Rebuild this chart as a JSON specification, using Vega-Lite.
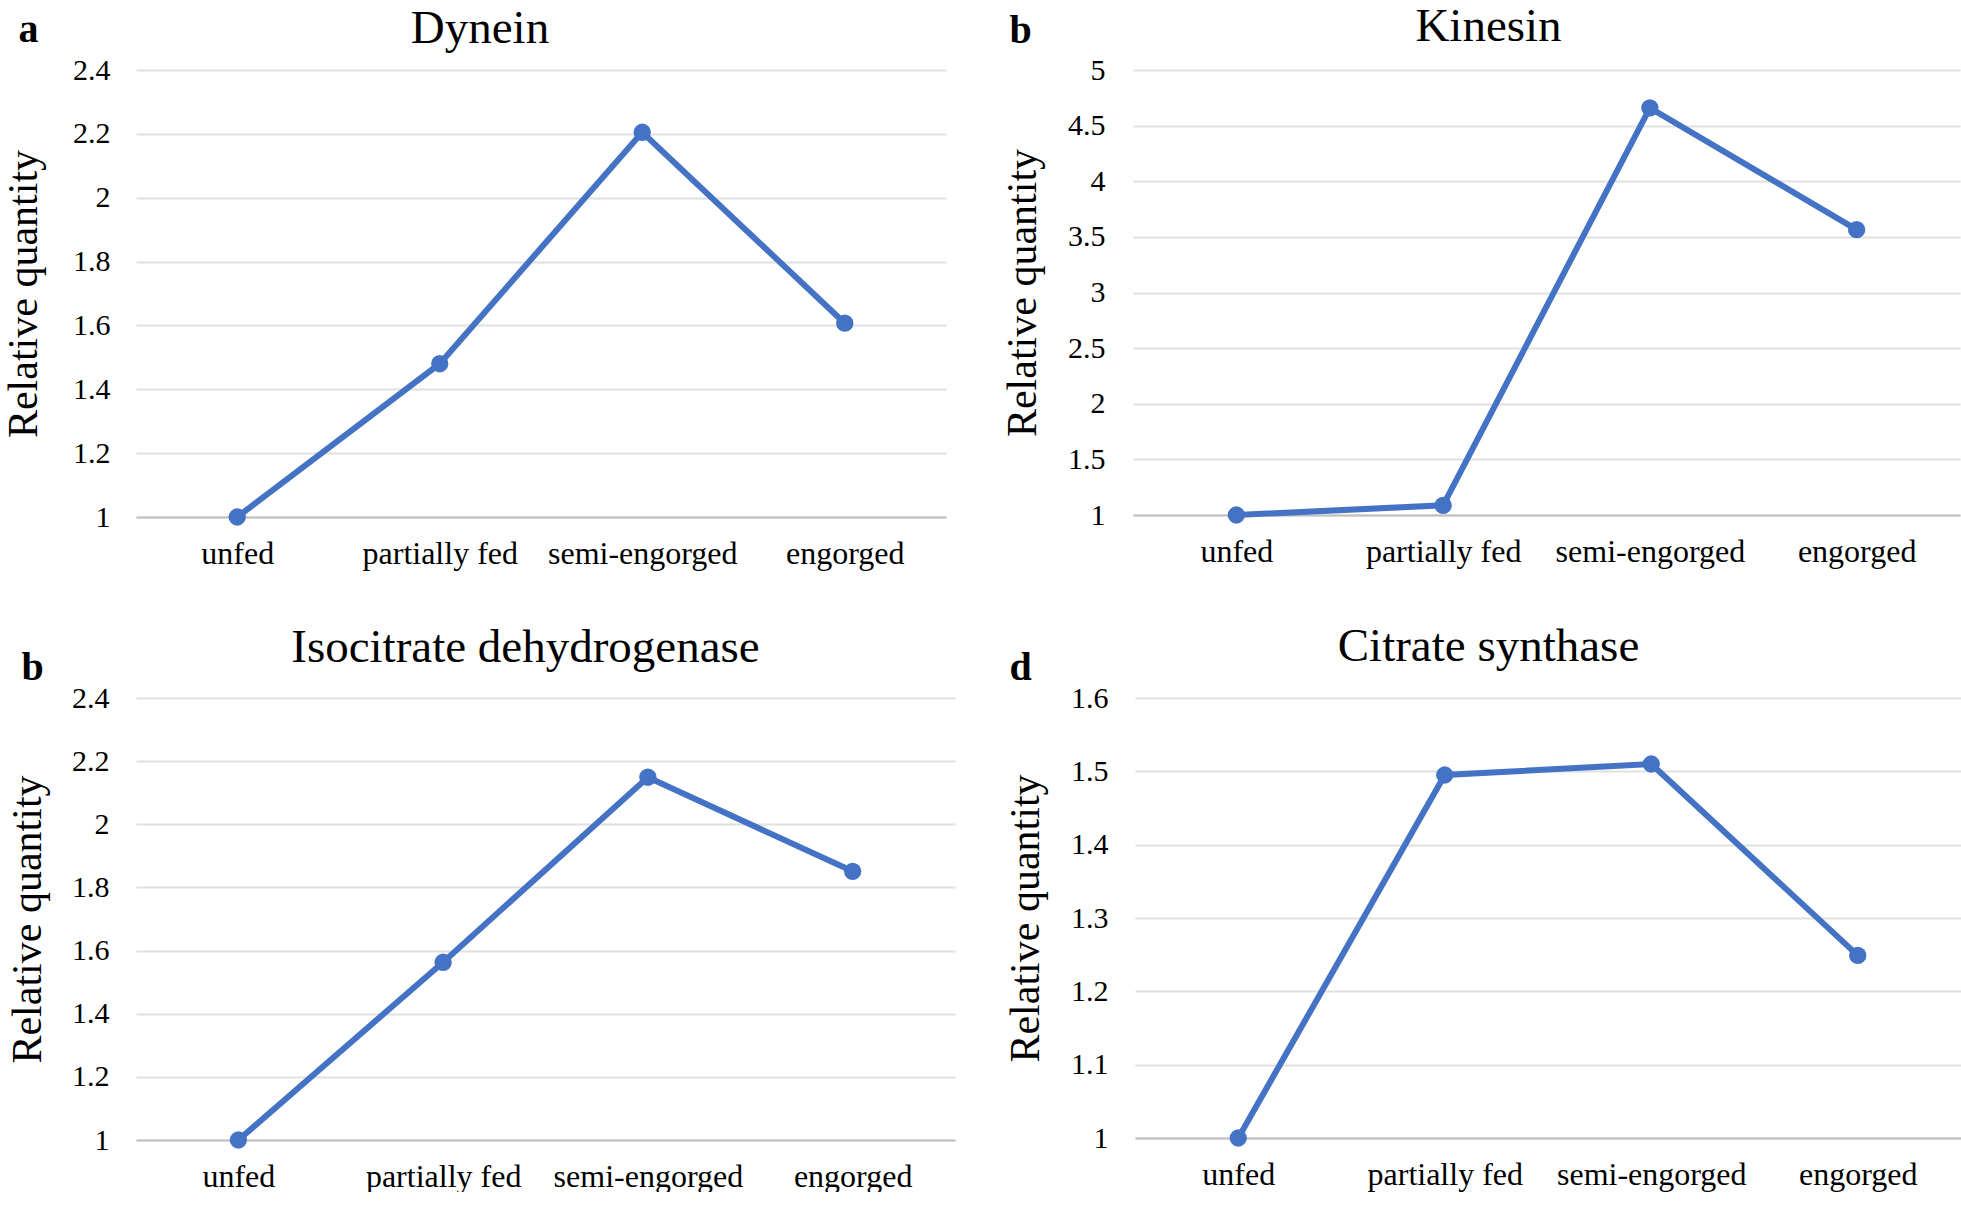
{
  "$schema": "https://vega.github.io/schema/vega-lite/v6.json",
  "background": "white",
  "padding": {"left": 2, "top": 2, "right": 0, "bottom": 0},
  "config": {
    "font": "Liberation Serif",
    "view": {"stroke": null},
    "axis": {"labelFont": "Liberation Serif", "titleFont": "Liberation Serif", "labelColor": "#000", "titleColor": "#000", "titleFontWeight": "normal", "labelLimit": 400}
  },
  "datasets": {
    "dynein": [
      {"stage": "unfed", "value": 1.0},
      {"stage": "partially fed", "value": 1.48},
      {"stage": "semi-engorged", "value": 2.205},
      {"stage": "engorged", "value": 1.607}
    ],
    "kinesin": [
      {"stage": "unfed", "value": 1.0},
      {"stage": "partially fed", "value": 1.087},
      {"stage": "semi-engorged", "value": 4.66},
      {"stage": "engorged", "value": 3.565}
    ],
    "idh": [
      {"stage": "unfed", "value": 1.0},
      {"stage": "partially fed", "value": 1.563},
      {"stage": "semi-engorged", "value": 2.149},
      {"stage": "engorged", "value": 1.851}
    ],
    "cs": [
      {"stage": "unfed", "value": 1.0},
      {"stage": "partially fed", "value": 1.495},
      {"stage": "semi-engorged", "value": 1.51},
      {"stage": "engorged", "value": 1.249}
    ]
  },
  "columns": 1,
  "align": "none",
  "spacing": 53,
  "concat": [
    {
      "spacing": 55,
      "hconcat": [
        {
          "width": 810, "height": 447,
          "data": {"name": "dynein"},
          "encoding": {
            "x": {"field": "stage", "type": "ordinal", "sort": null, "scale": {"type": "point", "padding": 0.5},
              "axis": {"orient": "bottom", "title": null, "labelAngle": 0, "labelFontSize": 32, "labelPadding": 21, "ticks": false, "domainColor": "#bfbfbf", "domainWidth": 2, "grid": false}},
            "y": {"field": "value", "type": "quantitative", "scale": {"domain": [1, 2.4], "nice": false, "zero": false},
              "axis": {"orient": "left", "values": [1, 1.2, 1.4, 1.6, 1.8, 2, 2.2, 2.4], "format": "~g", "labelFontSize": 30, "labelPadding": 26, "ticks": false, "domain": false, "grid": true, "gridColor": "#e0e0e0", "gridWidth": 2,
                "title": "Relative  quantity", "titleFontSize": 42, "titleX": -100, "titleBaseline": "alphabetic", "titleAngle": 270}}
          },
          "layer": [
            {"mark": {"type": "line", "color": "#4472C4", "strokeWidth": 6}},
            {"mark": {"type": "point", "filled": true, "size": 300, "color": "#4472C4", "opacity": 1},
              "encoding": {
                "x": {"field": "stage", "type": "ordinal", "sort": null,
                  "axis": {"orient": "top", "labels": false, "ticks": false, "domain": false, "grid": false, "title": "Dynein", "titleX": 343.5, "titleY": -28, "titleAlign": "center", "titleBaseline": "alphabetic", "titleAngle": 0, "titleFontSize": 47}},
                "y": {"field": "value", "type": "quantitative",
                  "axis": {"orient": "right", "labels": false, "ticks": false, "domain": false, "grid": false, "title": "a", "titleX": -928, "titleY": -29, "titleAngle": 0, "titleAlign": "left", "titleBaseline": "alphabetic", "titleFontSize": 40, "titleFontWeight": "bold"}}
              }}
          ],
          "resolve": {"axis": {"x": "independent", "y": "independent"}}
        },
        {
          "width": 827, "height": 445,
          "data": {"name": "kinesin"},
          "encoding": {
            "x": {"field": "stage", "type": "ordinal", "sort": null, "scale": {"type": "point", "padding": 0.5},
              "axis": {"orient": "bottom", "title": null, "labelAngle": 0, "labelFontSize": 32, "labelPadding": 21, "ticks": false, "domainColor": "#bfbfbf", "domainWidth": 2, "grid": false}},
            "y": {"field": "value", "type": "quantitative", "scale": {"domain": [1, 5], "nice": false, "zero": false},
              "axis": {"orient": "left", "values": [1, 1.5, 2, 2.5, 3, 3.5, 4, 4.5, 5], "format": "~g", "labelFontSize": 30, "labelPadding": 28, "ticks": false, "domain": false, "grid": true, "gridColor": "#e0e0e0", "gridWidth": 2,
                "title": "Relative  quantity", "titleFontSize": 42, "titleX": -98, "titleBaseline": "alphabetic", "titleAngle": 270}}
          },
          "layer": [
            {"mark": {"type": "line", "color": "#4472C4", "strokeWidth": 6}},
            {"mark": {"type": "point", "filled": true, "size": 300, "color": "#4472C4", "opacity": 1},
              "encoding": {
                "x": {"field": "stage", "type": "ordinal", "sort": null,
                  "axis": {"orient": "top", "labels": false, "ticks": false, "domain": false, "grid": false, "title": "Kinesin", "titleX": 355, "titleY": -30, "titleAlign": "center", "titleBaseline": "alphabetic", "titleAngle": 0, "titleFontSize": 47}},
                "y": {"field": "value", "type": "quantitative",
                  "axis": {"orient": "right", "labels": false, "ticks": false, "domain": false, "grid": false, "title": "b", "titleX": -951, "titleY": -28, "titleAngle": 0, "titleAlign": "left", "titleBaseline": "alphabetic", "titleFontSize": 40, "titleFontWeight": "bold"}}
              }}
          ],
          "resolve": {"axis": {"x": "independent", "y": "independent"}}
        }
      ]
    },
    {
      "spacing": 49,
      "hconcat": [
        {
          "width": 819, "height": 442,
          "data": {"name": "idh"},
          "encoding": {
            "x": {"field": "stage", "type": "ordinal", "sort": null, "scale": {"type": "point", "padding": 0.5},
              "axis": {"orient": "bottom", "title": null, "labelAngle": 0, "labelFontSize": 32, "labelPadding": 21, "ticks": false, "domainColor": "#bfbfbf", "domainWidth": 2, "grid": false}},
            "y": {"field": "value", "type": "quantitative", "scale": {"domain": [1, 2.4], "nice": false, "zero": false},
              "axis": {"orient": "left", "values": [1, 1.2, 1.4, 1.6, 1.8, 2, 2.2, 2.4], "format": "~g", "labelFontSize": 30, "labelPadding": 27, "ticks": false, "domain": false, "grid": true, "gridColor": "#e0e0e0", "gridWidth": 2,
                "title": "Relative  quantity", "titleFontSize": 42, "titleX": -96, "titleBaseline": "alphabetic", "titleAngle": 270}}
          },
          "layer": [
            {"mark": {"type": "line", "color": "#4472C4", "strokeWidth": 6}},
            {"mark": {"type": "point", "filled": true, "size": 300, "color": "#4472C4", "opacity": 1},
              "encoding": {
                "x": {"field": "stage", "type": "ordinal", "sort": null,
                  "axis": {"orient": "top", "labels": false, "ticks": false, "domain": false, "grid": false, "title": "Isocitrate dehydrogenase", "titleX": 389, "titleY": -37, "titleAlign": "center", "titleBaseline": "alphabetic", "titleAngle": 0, "titleFontSize": 47}},
                "y": {"field": "value", "type": "quantitative",
                  "axis": {"orient": "right", "labels": false, "ticks": false, "domain": false, "grid": false, "title": "b", "titleX": -934, "titleY": -19, "titleAngle": 0, "titleAlign": "left", "titleBaseline": "alphabetic", "titleFontSize": 40, "titleFontWeight": "bold"}}
              }}
          ],
          "resolve": {"axis": {"x": "independent", "y": "independent"}}
        },
        {
          "width": 826, "height": 440,
          "data": {"name": "cs"},
          "encoding": {
            "x": {"field": "stage", "type": "ordinal", "sort": null, "scale": {"type": "point", "padding": 0.5},
              "axis": {"orient": "bottom", "title": null, "labelAngle": 0, "labelFontSize": 32, "labelPadding": 21, "ticks": false, "domainColor": "#bfbfbf", "domainWidth": 2, "grid": false}},
            "y": {"field": "value", "type": "quantitative", "scale": {"domain": [1, 1.6], "nice": false, "zero": false},
              "axis": {"orient": "left", "values": [1, 1.1, 1.2, 1.3, 1.4, 1.5, 1.6], "format": "~g", "labelFontSize": 30, "labelPadding": 27, "ticks": false, "domain": false, "grid": true, "gridColor": "#e0e0e0", "gridWidth": 2,
                "title": "Relative  quantity", "titleFontSize": 42, "titleX": -97, "titleBaseline": "alphabetic", "titleAngle": 270}}
          },
          "layer": [
            {"mark": {"type": "line", "color": "#4472C4", "strokeWidth": 6}},
            {"mark": {"type": "point", "filled": true, "size": 300, "color": "#4472C4", "opacity": 1},
              "encoding": {
                "x": {"field": "stage", "type": "ordinal", "sort": null,
                  "axis": {"orient": "top", "labels": false, "ticks": false, "domain": false, "grid": false, "title": "Citrate synthase", "titleX": 353, "titleY": -38, "titleAlign": "center", "titleBaseline": "alphabetic", "titleAngle": 0, "titleFontSize": 47}},
                "y": {"field": "value", "type": "quantitative",
                  "axis": {"orient": "right", "labels": false, "ticks": false, "domain": false, "grid": false, "title": "d", "titleX": -952, "titleY": -19, "titleAngle": 0, "titleAlign": "left", "titleBaseline": "alphabetic", "titleFontSize": 40, "titleFontWeight": "bold"}}
              }}
          ],
          "resolve": {"axis": {"x": "independent", "y": "independent"}}
        }
      ]
    }
  ]
}
